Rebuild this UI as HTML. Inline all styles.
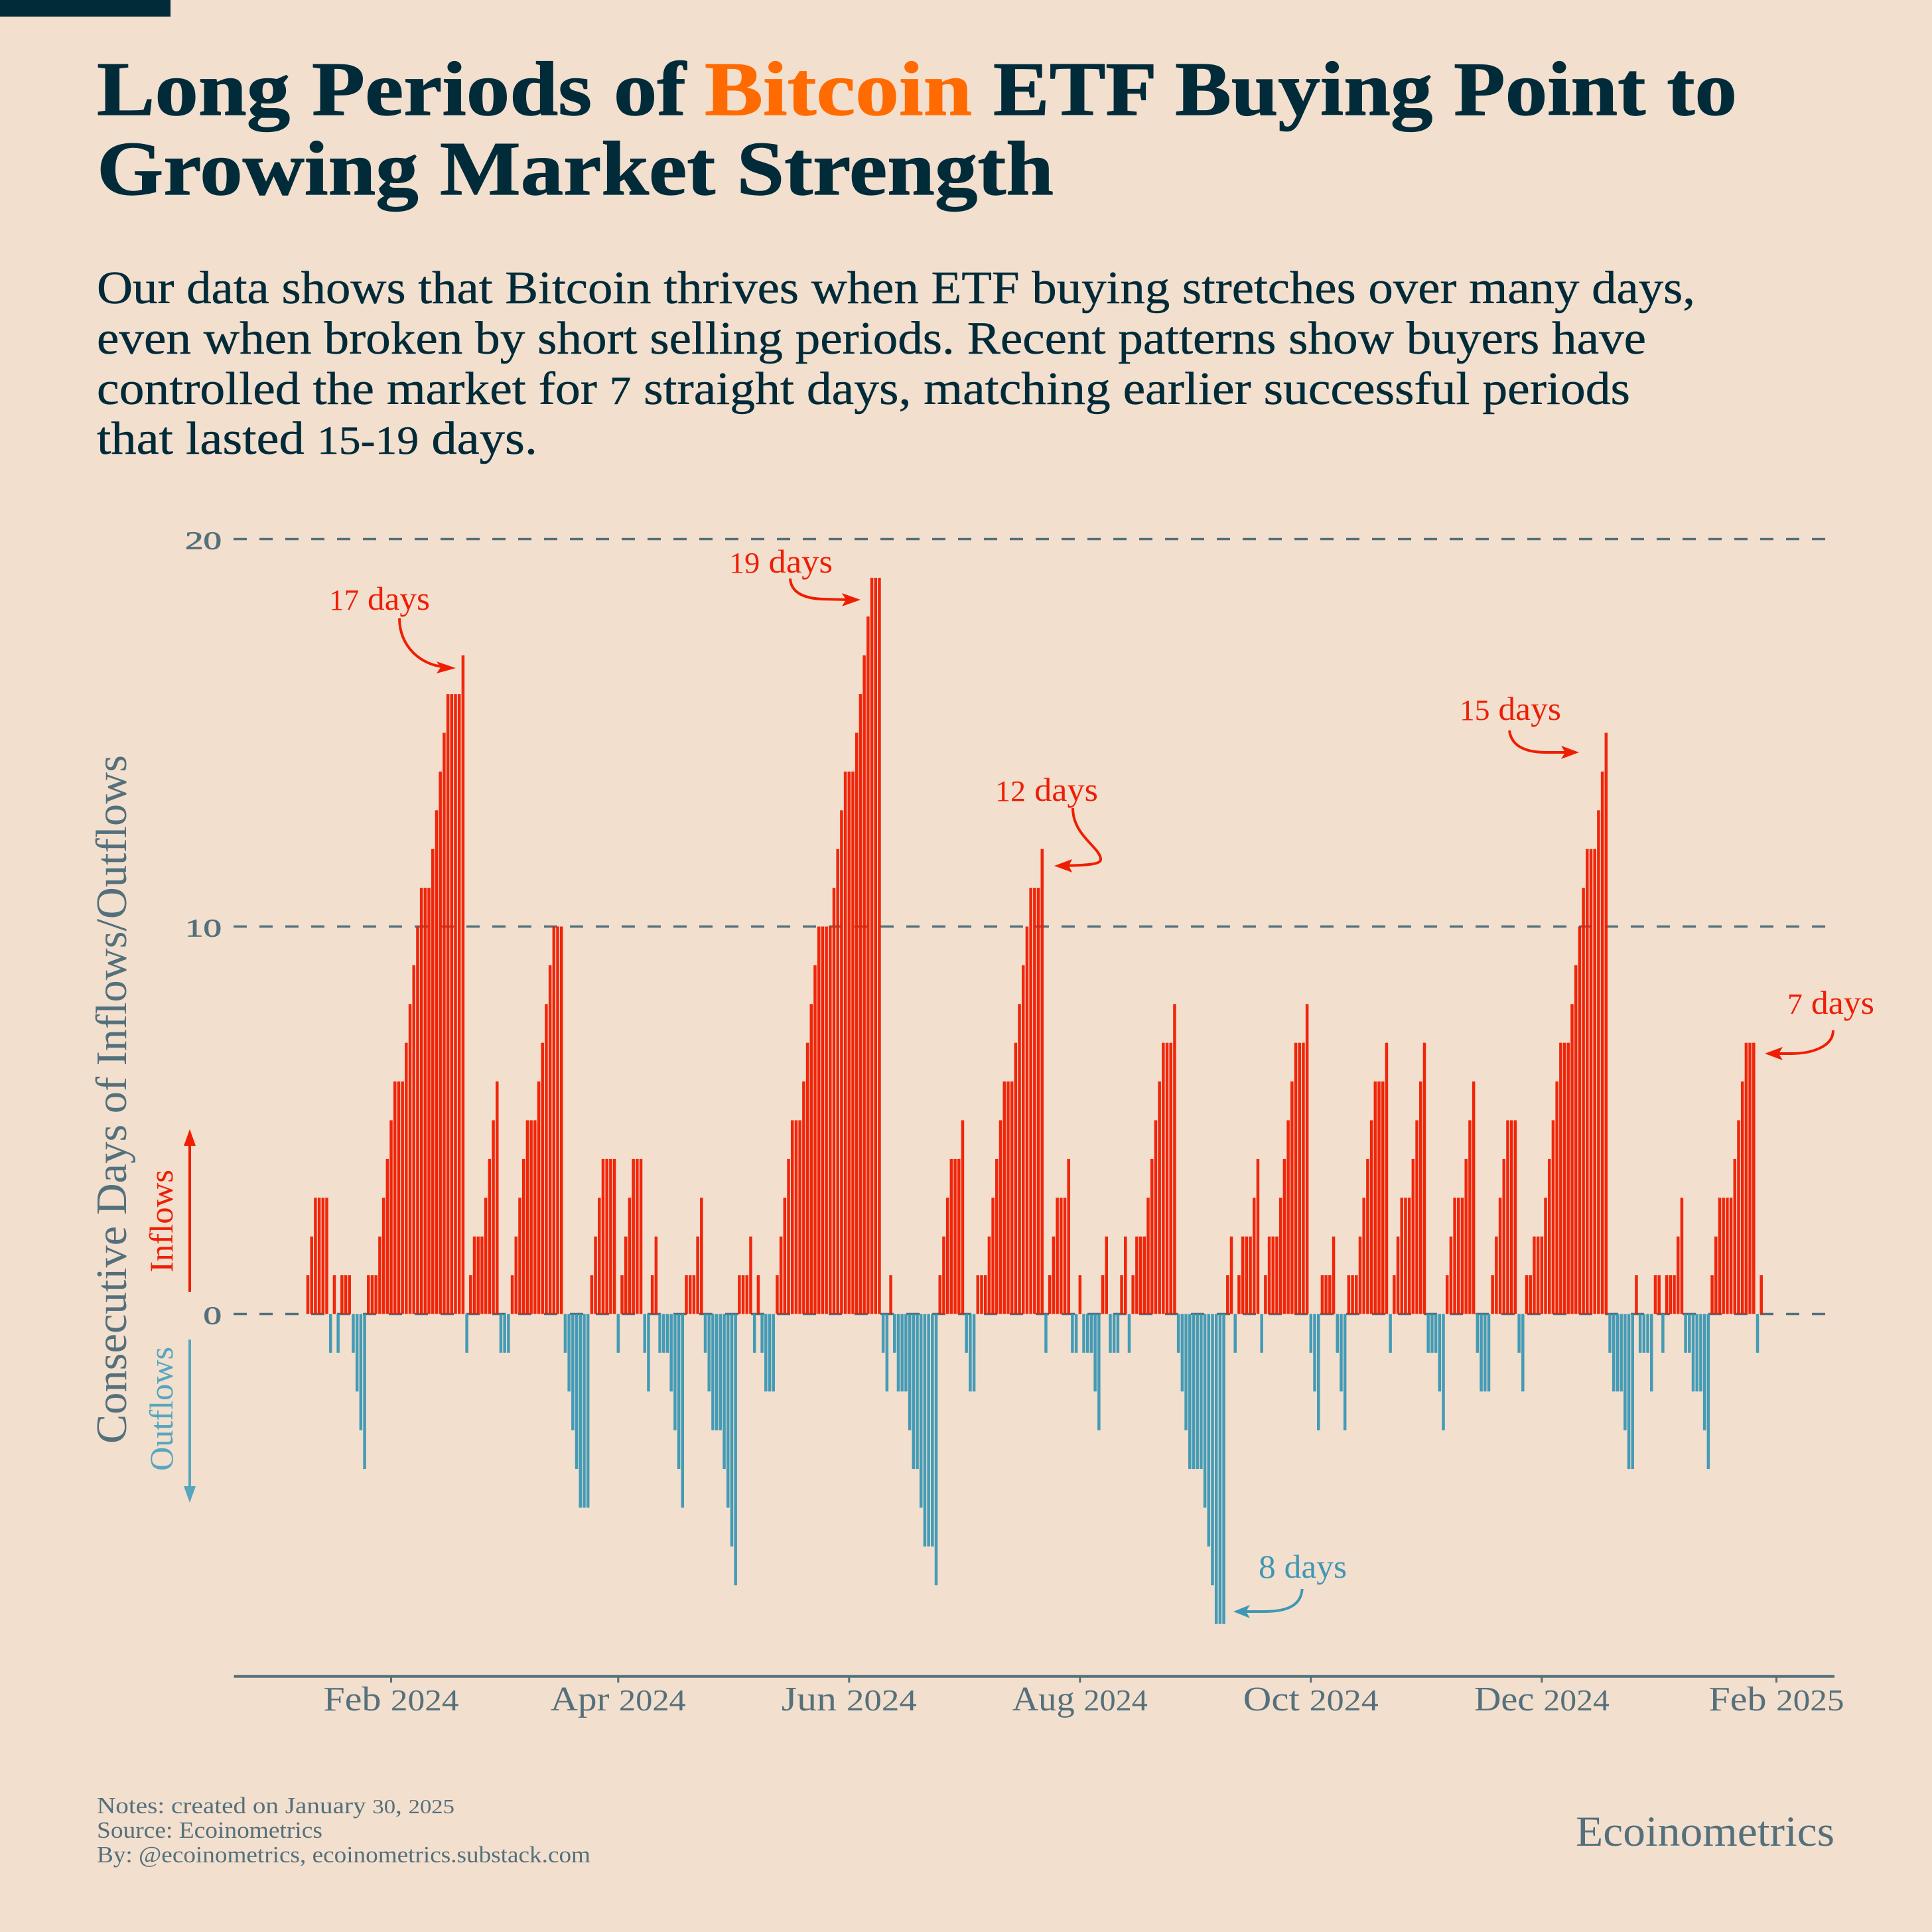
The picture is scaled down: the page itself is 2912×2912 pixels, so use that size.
<!DOCTYPE html>
<html lang="en">
<head>
<meta charset="utf-8">
<title>Long Periods of Bitcoin ETF Buying Point to Growing Market Strength</title>
<style>
html,body{margin:0;padding:0;background:#F2DFCE;}
svg{display:block;}
text{font-family:"Liberation Serif",serif;}
</style>
</head>
<body>
<svg id="chart" xmlns="http://www.w3.org/2000/svg" width="2912" height="2912" viewBox="0 0 2912 2912">
  <rect x="0" y="0" width="2912" height="2912" fill="#F2DFCE"/>
  <rect x="0" y="0" width="257" height="25" fill="#022B3A"/>

  <g font-weight="700" font-size="116" fill="#022B3A" stroke="#022B3A" stroke-width="1.2">
    <text x="146" y="173" textLength="888" lengthAdjust="spacingAndGlyphs">Long Periods of</text>
    <text x="1062" y="173" textLength="403" lengthAdjust="spacingAndGlyphs" fill="#FF6B00" stroke="#FF6B00">Bitcoin</text>
    <text x="1497" y="173" textLength="1121" lengthAdjust="spacingAndGlyphs">ETF Buying Point to</text>
    <text x="146" y="293" textLength="1442" lengthAdjust="spacingAndGlyphs">Growing Market Strength</text>
  </g>

  <g font-size="70" fill="#022B3A" stroke="#022B3A" stroke-width="0.5">
    <text x="146" y="457" textLength="2409" lengthAdjust="spacingAndGlyphs">Our data shows that Bitcoin thrives when ETF buying stretches over many days,</text>
    <text x="146" y="533" textLength="2335" lengthAdjust="spacingAndGlyphs">even when broken by short selling periods. Recent patterns show buyers have</text>
    <text x="146" y="609" textLength="2311" lengthAdjust="spacingAndGlyphs">controlled the market for <tspan font-size="60">7</tspan> straight days, matching earlier successful periods</text>
    <text x="146" y="684" textLength="664" lengthAdjust="spacingAndGlyphs">that lasted <tspan font-size="60">15-19</tspan> days.</text>
  </g>

  <g id="grid"></g>
  <g id="yticks"></g>
  <g id="bars"></g>

  <text transform="translate(190,2176) rotate(-90)" font-size="66" fill="#54707C" textLength="1038" lengthAdjust="spacingAndGlyphs">Consecutive Days of Inflows/Outflows</text>
  <text transform="translate(260,1918) rotate(-90)" font-size="50" fill="#EE1E05" textLength="155" lengthAdjust="spacingAndGlyphs">Inflows</text>
  <text transform="translate(260,2217) rotate(-90)" font-size="50" fill="#56A6BD" textLength="187" lengthAdjust="spacingAndGlyphs">Outflows</text>
  <g>
    <line x1="286" y1="1947" x2="286" y2="1722" stroke="#F01E00" stroke-width="4"/>
    <polygon points="286,1702 277,1727 295,1727" fill="#F01E00"/>
  </g>
  <g>
    <line x1="286" y1="2019" x2="286" y2="2245" stroke="#56A6BD" stroke-width="4"/>
    <polygon points="286,2265 277,2240 295,2240" fill="#56A6BD"/>
  </g>

  <line x1="352.5" y1="2526.7" x2="2765" y2="2526.7" stroke="#54707C" stroke-width="4"/>
  <g id="xticks"></g>

  <g font-size="50" fill="#EE1E05">
    <g>
      <text x="496" y="919" textLength="152" lengthAdjust="spacingAndGlyphs"><tspan font-size="44">17</tspan> days</text>
      <path d="M602 932 C602 975,635 1002,668 1005" fill="none" stroke="#F01E00" stroke-width="4"/>
      <polygon points="687,1007 658,997 664,1006 658,1015" fill="#F01E00"/>
    </g>
    <g>
      <text x="1099" y="863" textLength="156" lengthAdjust="spacingAndGlyphs"><tspan font-size="44">19</tspan> days</text>
      <path d="M1191 872 C1192 892,1210 902,1240 903 L1280 904" fill="none" stroke="#F01E00" stroke-width="4"/>
      <polygon points="1297,904 1269,894 1275,904 1269,914" fill="#F01E00"/>
    </g>
    <g>
      <text x="1500" y="1207" textLength="155" lengthAdjust="spacingAndGlyphs"><tspan font-size="44">12</tspan> days</text>
      <path d="M1617 1218 C1617 1260,1660 1278,1659 1296 C1658 1305,1620 1304,1605 1305" fill="none" stroke="#F01E00" stroke-width="4"/>
      <polygon points="1589,1305 1616,1295 1611,1305 1616,1315" fill="#F01E00"/>
    </g>
    <g>
      <text x="2200" y="1085" textLength="153" lengthAdjust="spacingAndGlyphs"><tspan font-size="44">15</tspan> days</text>
      <path d="M2275 1101 C2278 1125,2300 1134,2330 1134 L2365 1134" fill="none" stroke="#F01E00" stroke-width="4"/>
      <polygon points="2380,1134 2353,1124 2359,1134 2353,1144" fill="#F01E00"/>
    </g>
    <g>
      <text x="2694" y="1528" textLength="131" lengthAdjust="spacingAndGlyphs"><tspan font-size="44">7</tspan> days</text>
      <path d="M2763 1553 C2763 1578,2730 1588,2700 1588 L2675 1588" fill="none" stroke="#F01E00" stroke-width="4"/>
      <polygon points="2660,1588 2687,1578 2681,1588 2687,1598" fill="#F01E00"/>
    </g>
  </g>
  <g>
    <text x="1897" y="2378" font-size="50" fill="#3F97B3" textLength="133" lengthAdjust="spacingAndGlyphs">8 days</text>
    <path d="M1962.7 2395 C1961 2420,1940 2429,1905 2429 L1875 2429" fill="none" stroke="#3F97B3" stroke-width="4"/>
    <polygon points="1859,2429 1884,2419 1878,2429 1884,2439" fill="#3F97B3"/>
  </g>

  <g font-size="35" fill="#54707C">
    <text x="146" y="2733" textLength="539" lengthAdjust="spacingAndGlyphs">Notes: created on January <tspan font-size="31">30</tspan>, <tspan font-size="31">2025</tspan></text>
    <text x="146" y="2770" textLength="340" lengthAdjust="spacingAndGlyphs">Source: Ecoinometrics</text>
    <text x="146" y="2807" textLength="744" lengthAdjust="spacingAndGlyphs">By: @ecoinometrics, ecoinometrics.substack.com</text>
  </g>
  <text x="2375" y="2782" font-size="65" fill="#54707C" textLength="390" lengthAdjust="spacingAndGlyphs">Ecoinometrics</text>
</svg>
<script>
const startDate = '2024-01-10';
const streakValues = [
  1,2,3,3,3,3,-1,1,-1,1,1,1,-1,-2,-3,-4,
  1,1,1,2,3,4,5,6,6,6,7,8,9,10,11,11,11,12,13,14,15,16,16,16,16,17,
  -1,
  1,2,2,2,3,4,5,6,
  -1,-1,-1,
  1,2,3,4,5,5,5,6,7,8,9,10,10,10,
  -1,-2,-3,-4,-5,-5,-5,
  1,2,3,4,4,4,4,
  -1,
  1,2,3,4,4,4,
  -1,-2,
  1,2,
  -1,-1,-1,-2,-3,-4,-5,
  1,1,1,2,3,
  -1,-2,-3,-3,-3,-4,-5,-6,-7,
  1,1,1,2,
  -1,
  1,
  -1,-2,-2,-2,
  1,2,3,4,5,5,5,6,7,8,9,10,10,10,10,11,12,13,14,14,14,15,16,17,18,19,19,19,
  -1,-2,
  1,
  -1,-2,-2,-2,-3,-4,-4,-5,-6,-6,-6,-7,
  1,2,3,4,4,4,5,
  -1,-2,-2,
  1,1,1,2,3,4,5,6,6,6,7,8,9,10,11,11,11,12,
  -1,
  1,2,3,3,3,4,
  -1,-1,
  1,
  -1,-1,-1,-2,-3,
  1,2,
  -1,-1,-1,
  1,2,
  -1,
  1,2,2,2,3,4,5,6,7,7,7,8,
  -1,-2,-3,-4,-4,-4,-4,-5,-6,-7,-8,-8,-8,
  1,2,
  -1,
  1,2,2,2,3,4,
  -1,
  1,2,2,2,3,4,5,6,7,7,7,8,
  -1,-2,-3,
  1,1,1,2,
  -1,-2,-3,
  1,1,1,2,3,4,5,6,6,6,7,
  -1,
  1,2,3,3,3,4,5,6,7,
  -1,-1,-1,-2,-3,
  1,2,3,3,3,4,5,6,
  -1,-2,-2,-2,
  1,2,3,4,5,5,5,
  -1,-2,
  1,1,2,2,2,3,4,5,6,7,7,7,8,9,10,11,12,12,12,13,14,15,
  -1,-2,-2,-2,-3,-4,-4,
  1,
  -1,-1,-1,-2,
  1,1,
  -1,
  1,1,1,2,3,
  -1,-1,-2,-2,-2,-3,-4,
  1,2,3,3,3,3,4,5,6,7,7,7,
  -1,
  1
];
const xTickDates = ['2024-02-01','2024-04-01','2024-06-01','2024-08-01','2024-10-01','2024-12-01','2025-02-01'];
const xTickMonths = ['Feb','Apr','Jun','Aug','Oct','Dec','Feb'];
const xTickYears = ['2024','2024','2024','2024','2024','2024','2025'];
const yTickValues = [20,10,0];
const yTickLabels = ['20','10','0'];

const SVG_NS = 'http://www.w3.org/2000/svg';
const DAY_MS = 86400000;
const X_ORIGIN = 464;
const DAY_WIDTH = 5.705;
const Y_ZERO = 1980.5;
const UNIT_HEIGHT = 58.4;
const BAR_WIDTH = 4.5;

function xScale(dayIndex) { return X_ORIGIN + DAY_WIDTH * dayIndex; }
function yScale(value) { return Y_ZERO - UNIT_HEIGHT * value; }
function dayIndexOf(dateString) { return (Date.parse(dateString) - Date.parse(startDate)) / DAY_MS; }
function make(tag) { return document.createElementNS(SVG_NS, tag); }

const gridGroup = document.getElementById('grid');
const yTickGroup = document.getElementById('yticks');
yTickValues.forEach(function (value, i) {
  const line = make('line');
  
  
  line.setAttribute('x1', 352);
  line.setAttribute('x2', 2752);
  line.setAttribute('y1', yScale(value));
  line.setAttribute('y2', yScale(value));
  line.setAttribute('stroke', '#54707C');
  line.setAttribute('stroke-width', 3.6);
  line.setAttribute('stroke-dasharray', '20 19');
  gridGroup.appendChild(line);

  const label = make('text');
  
  
  const chars = yTickLabels[i].length;
  label.setAttribute('x', 334 - 27.5 * chars);
  label.setAttribute('y', yScale(value) + 15);
  label.setAttribute('font-size', 38);
  label.setAttribute('fill', '#54707C');
  label.setAttribute('stroke', '#54707C');
  label.setAttribute('stroke-width', 0.8);
  label.setAttribute('textLength', 27.5 * chars);
  label.setAttribute('lengthAdjust', 'spacingAndGlyphs');
  label.textContent = yTickLabels[i];
  yTickGroup.appendChild(label);
});

const barGroup = document.getElementById('bars');
streakValues.forEach(function (value, i) {
  const bar = make('rect');
  
  
  bar.setAttribute('x', xScale(i) - BAR_WIDTH / 2);
  bar.setAttribute('y', Math.min(yScale(value), Y_ZERO));
  bar.setAttribute('width', BAR_WIDTH);
  bar.setAttribute('height', Math.abs(yScale(value) - Y_ZERO));
  bar.setAttribute('fill', value > 0 ? '#EF1B00' : '#3A97B3');
  bar.setAttribute('fill-opacity', '0.95');
  barGroup.appendChild(bar);
});

const xTickGroup = document.getElementById('xticks');
xTickDates.forEach(function (date, i) {
  const x = xScale(dayIndexOf(date));
  const tick = make('line');
  
  
  tick.setAttribute('x1', x);
  tick.setAttribute('x2', x);
  tick.setAttribute('y1', 2527);
  tick.setAttribute('y2', 2536);
  tick.setAttribute('stroke', '#54707C');
  tick.setAttribute('stroke-width', 3);
  xTickGroup.appendChild(tick);

  const label = make('text');
  
  
  label.setAttribute('x', x - 102);
  label.setAttribute('y', 2578);
  label.setAttribute('font-size', 52);
  label.setAttribute('fill', '#54707C');
  label.setAttribute('textLength', 204);
  label.setAttribute('lengthAdjust', 'spacingAndGlyphs');
  label.appendChild(document.createTextNode(xTickMonths[i] + ' '));
  const year = make('tspan');
  year.setAttribute('font-size', 46);
  year.textContent = xTickYears[i];
  label.appendChild(year);
  xTickGroup.appendChild(label);
});
</script>
</body>
</html>
